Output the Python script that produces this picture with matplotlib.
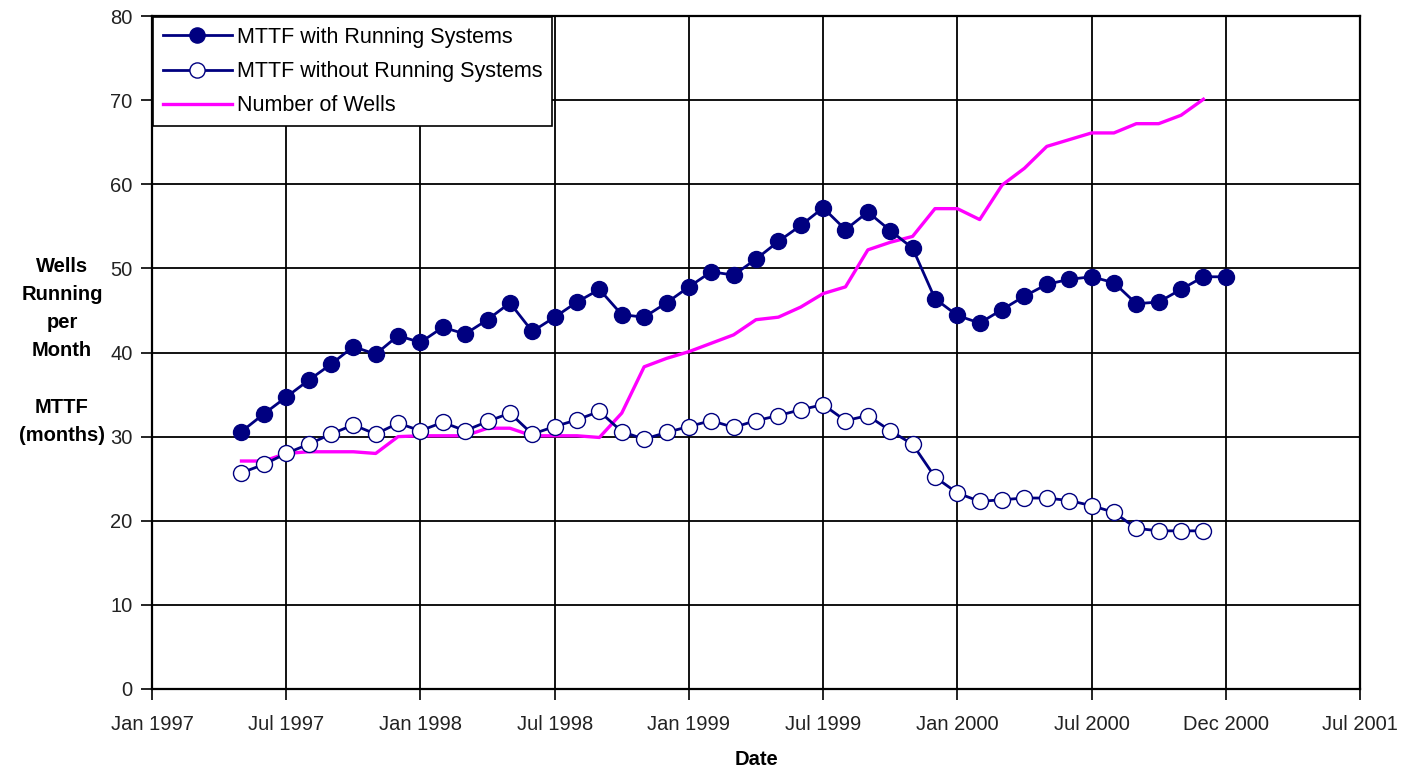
import matplotlib
matplotlib.use("Agg")
import matplotlib.pyplot as plt
import pandas as pd

plt.rcParams['font.family'] = ['Liberation Sans', 'DejaVu Sans']

# ---- data ----
start_with = "1997-05"
mttf_with = [30.6, 32.7, 34.7, 36.7, 38.6, 40.7, 39.8, 42.0, 41.2, 43.0,
             42.2, 43.9, 45.9, 42.5, 44.2, 46.0, 47.5, 44.5, 44.2, 45.9,
             47.8, 49.6, 49.2, 51.1, 53.2, 55.1, 57.2, 54.6, 56.7, 54.5,
             52.4, 46.4, 44.4, 43.5, 45.1, 46.7, 48.1, 48.7, 49.0, 48.3,
             45.8, 46.0, 47.5, 49.0, 49.0]
mttf_without = [25.7, 26.7, 28.0, 29.1, 30.3, 31.4, 30.3, 31.6, 30.7, 31.7,
                30.7, 31.8, 32.8, 30.3, 31.2, 32.0, 33.0, 30.6, 29.7, 30.5,
                31.2, 31.9, 31.1, 31.9, 32.5, 33.2, 33.8, 31.9, 32.5, 30.7,
                29.1, 25.2, 23.3, 22.3, 22.5, 22.7, 22.7, 22.4, 21.8, 21.0,
                19.1, 18.8, 18.8, 18.8]
wells = [27.1, 27.1, 28.0, 28.2, 28.2, 28.2, 28.0, 30.0, 30.1, 30.1,
         30.1, 31.0, 31.0, 30.1, 30.1, 30.1, 29.9, 32.8, 38.3, 39.3,
         40.1, 41.1, 42.1, 43.9, 44.2, 45.4, 47.0, 47.8, 52.2, 53.1,
         53.8, 57.1, 57.1, 55.8, 59.9, 61.9, 64.5, 65.3, 66.1, 66.1,
         67.2, 67.2, 68.2, 70.1]
tick_labels = ["Jan 1997", "Jul 1997", "Jan 1998", "Jul 1998", "Jan 1999",
               "Jul 1999", "Jan 2000", "Jul 2000", "Dec 2000", "Jul 2001"]
y_ticks = [0, 10, 20, 30, 40, 50, 60, 70, 80]

# month offsets from Jan 1997
origin = pd.Period("1997-01", freq="M")
def month_offsets(start, n):
    per = pd.period_range(start, periods=n, freq="M")
    return [(p - origin).n for p in per]

x_with = month_offsets(start_with, len(mttf_with))
x_without = month_offsets(start_with, len(mttf_without))
x_wells = month_offsets(start_with, len(wells))
tick_pos = [6 * i for i in range(len(tick_labels))]

navy = "#000080"
magenta = "#FF00FF"

fig = plt.figure(figsize=(14.17, 7.76), dpi=100)
ax = fig.add_axes([152/1417, 1-689/776, (1360-152)/1417, (689-16)/776])

ax.plot(x_wells, wells, color=magenta, lw=2.4, label="Number of Wells", zorder=3)
ax.plot(x_with, mttf_with, color=navy, lw=2.0, marker="o", ms=11.5,
        mfc=navy, mec=navy, label="MTTF with Running Systems", zorder=4)
ax.plot(x_without, mttf_without, color=navy, lw=2.0, marker="o", ms=11.5,
        mfc="white", mec=navy, mew=1.0, label="MTTF without Running Systems", zorder=4)

ax.set_xlim(tick_pos[0], tick_pos[-1])
ax.set_ylim(0, 80)
ax.set_xticks(tick_pos)
ax.set_xticklabels(tick_labels)
ax.set_yticks(y_ticks)
ax.grid(True, color="black", lw=1.3)
ax.set_axisbelow(True)
for s in ax.spines.values():
    s.set_color("black")
    s.set_linewidth(1.6)
ax.tick_params(axis="both", direction="out", length=8, width=1.2,
               labelsize=14.5, colors="black")
ax.tick_params(axis="x", pad=11)
ax.tick_params(axis="y", pad=6)
for lab in ax.get_xticklabels() + ax.get_yticklabels():
    lab.set_color("#222222")

ax.set_xlabel("Date", fontsize=14.5, fontweight="bold", labelpad=11)
fig.text(62/1417, 1-351/776, "Wells\nRunning\nper\nMonth\n\nMTTF\n(months)",
         ha="center", va="center", fontsize=14.5, fontweight="bold",
         linespacing=1.62)

handles, labels = ax.get_legend_handles_labels()
order = [1, 2, 0]
leg = ax.legend([handles[i] for i in order], [labels[i] for i in order],
                loc="upper left", bbox_to_anchor=(0.0, 1.0), borderaxespad=0.05,
                fontsize=15.5, frameon=True, fancybox=False, edgecolor="black",
                framealpha=1, handlelength=3.2, handletextpad=0.25,
                labelspacing=0.62, borderpad=0.45, markerscale=0.95)
leg.get_frame().set_linewidth(1.2)

fig.savefig("out.png", dpi=100)
